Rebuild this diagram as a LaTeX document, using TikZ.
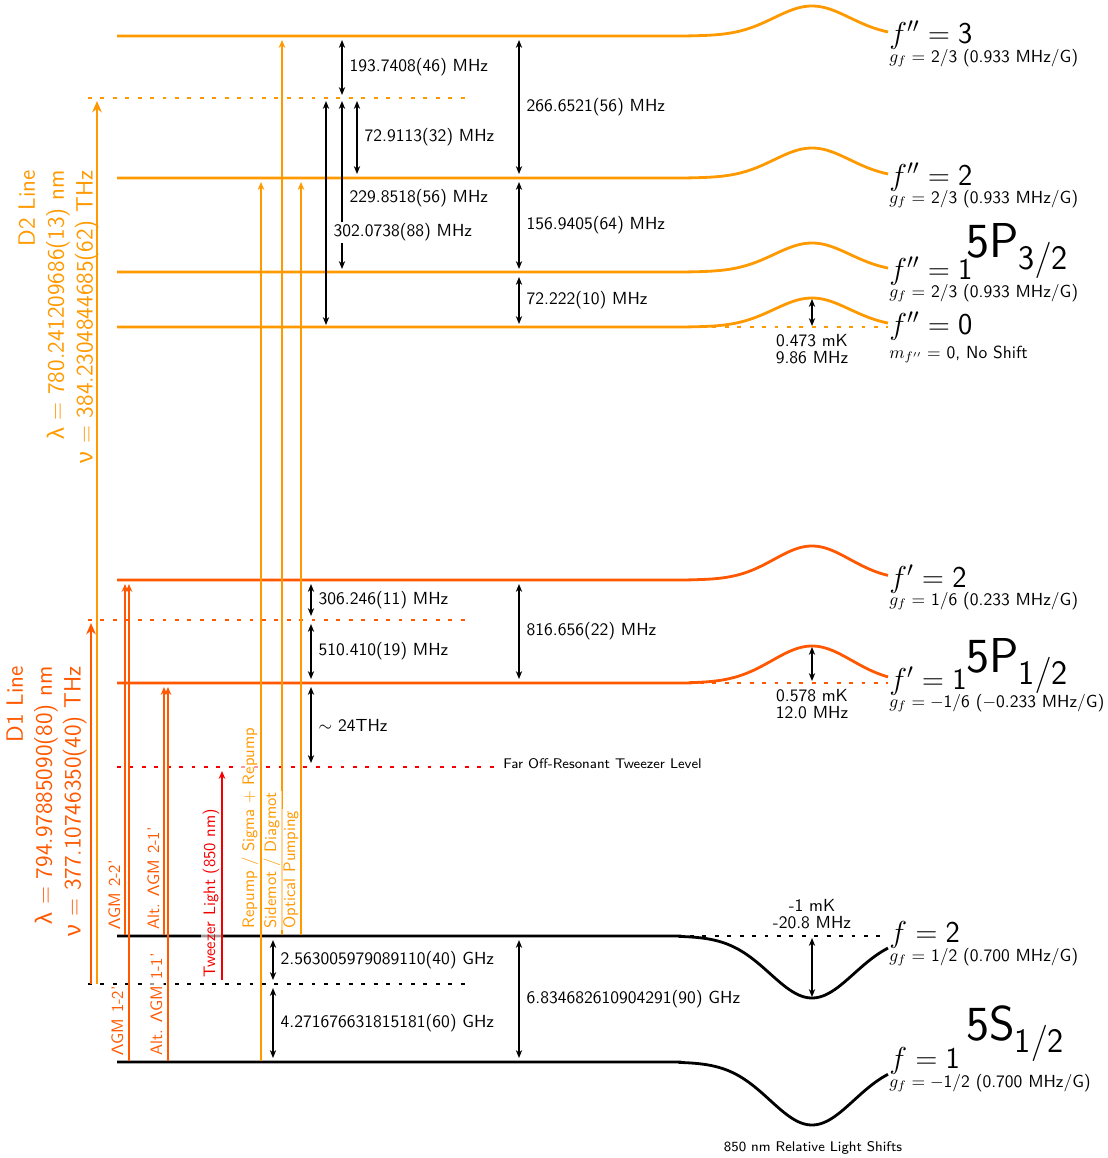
\documentclass[tikz,border=0pt]{standalone}
\usepackage{fontspec}
\newfontfamily\grk{Liberation Sans}
\usetikzlibrary{arrows.meta}
\definecolor{dtwo}{RGB}{255,153,0}
\definecolor{done}{RGB}{255,88,0}
\definecolor{twz}{RGB}{245,0,0}
\pgfmathdeclarefunction{gb}{2}{\pgfmathparse{exp(-0.5*((#1-812)/#2)*((#1-812)/#2))}}
\tikzset{
 lvl/.style={line width=1.6pt},
 vdot/.style={line width=1.6pt, dash pattern=on 2.2pt off 4.9pt},
 sep/.style={{Stealth[length=4.5pt,width=3.6pt]}-{Stealth[length=4.5pt,width=3.6pt]}, line width=0.75pt, black},
 beam/.style={-{Stealth[length=4.5pt,width=3.8pt]}, line width=0.8pt},
 dline/.style={-{Stealth[length=6.5pt,width=5.5pt]}, line width=1.7pt},
 seplab/.style={anchor=west, inner sep=0pt, font=\sffamily\fontsize{10}{12}\selectfont, xshift=4pt},
 beamlab/.style={rotate=90, anchor=base west, inner sep=0.8pt, font=\sffamily\fontsize{9.5}{11}\selectfont, fill=white, fill opacity=0.6, text opacity=1},
 biglab/.style={anchor=base west, inner sep=0pt, font=\fontsize{17.3}{20}\selectfont},
 gflab/.style={anchor=base west, inner sep=0pt, font=\sffamily\fontsize{10}{12}\selectfont},
 termlab/.style={anchor=base west, inner sep=0pt, font=\fontsize{28}{30}\selectfont},
 shiftlab/.style={align=center, inner sep=0pt, font=\sffamily\fontsize{10}{9.7}\selectfont},
 dlab/.style={rotate=90, anchor=south east, align=right, inner sep=0pt, font=\sffamily\fontsize{13.5}{16.5}\selectfont},
 smalllab/.style={inner sep=0pt, font=\sffamily\fontsize{8}{10}\selectfont},
}
\begin{document}
\begin{tikzpicture}[x=0.5715pt,y=-0.5715pt]
\useasboundingbox (0,0) rectangle (1108,1158);

% ---------- dotted virtual levels ----------
\draw[vdot,dtwo] (88,98) -- (466,98);
\draw[vdot,done] (88,620) -- (466,620);
\draw[vdot,black] (88,984) -- (466,984);
\draw[vdot,twz] (117,767) -- (500,767);
\node[smalllab, anchor=base west] (farlab) at (503,768) {Far Off-Resonant Tweezer Level};

% dotted continuations under shifted levels
\draw[vdot,dtwo] (700,327) -- (888,327);
\draw[vdot,done] (700,683) -- (888,683);
\draw[vdot,black] (690,936) -- (888,936);

% ---------- hyperfine levels with light shifts ----------
\draw[lvl,dtwo] (117,36) -- (690,36) -- plot[smooth,domain=690:888,samples=40] (\x,{36-30*gb(\x,38)});
\draw[lvl,dtwo] (117,178) -- (690,178) -- plot[smooth,domain=690:888,samples=40] (\x,{178-30*gb(\x,38)});
\draw[lvl,dtwo] (117,272) -- (690,272) -- plot[smooth,domain=690:888,samples=40] (\x,{272-29*gb(\x,38)});
\draw[lvl,dtwo] (117,327) -- (690,327) -- plot[smooth,domain=690:888,samples=40] (\x,{327-29*gb(\x,38)});
\draw[lvl,done] (117,580) -- (690,580) -- plot[smooth,domain=690:888,samples=40] (\x,{580-34*gb(\x,38)});
\draw[lvl,done] (117,683) -- (690,683) -- plot[smooth,domain=690:888,samples=40] (\x,{683-37*gb(\x,40)});
\draw[lvl,black] (117,936) -- (680,936) -- plot[smooth,domain=680:888,samples=40] (\x,{936+62*gb(\x,42)});
\draw[lvl,black] (117,1062) -- (680,1062) -- plot[smooth,domain=680:888,samples=40] (\x,{1062+63*gb(\x,42)});

% ---------- right labels ----------
\node[biglab] (l3) at (889,43) {$f''=\mathsf{3}$};
\node[gflab] (g3) at (889,62) {$g_f =$ 2/3 (0.933 MHz/G)};
\node[biglab] (l2) at (889,185) {$f''=\mathsf{2}$};
\node[gflab] (g2) at (889,203) {$g_f =$ 2/3 (0.933 MHz/G)};
\node[biglab] (l1) at (889,279) {$f''=\mathsf{1}$};
\node[gflab] (g1) at (889,297) {$g_f =$ 2/3 (0.933 MHz/G)};
\node[biglab] (l0) at (889,334) {$f''=\mathsf{0}$};
\node[gflab] (g0) at (889,358) {$m_{f''} =$ 0, No Shift};
\node[termlab] (t32) at (966,257) {$\mathsf{5P}_{\mathsf{3/2}}$};

\node[biglab] (k2) at (889,587) {$f'=\mathsf{2}$};
\node[gflab] (h2) at (889,605) {$g_f =$ 1/6 (0.233 MHz/G)};
\node[biglab] (k1) at (889,689) {$f'=\mathsf{1}$};
\node[gflab] (h1) at (889,707) {$g_f = -$1/6 ($-$0.233 MHz/G)};
\node[termlab] (t12) at (966,672) {$\mathsf{5P}_{\mathsf{1/2}}$};

\node[biglab] (j2) at (889,942) {$f=\mathsf{2}$};
\node[gflab] (i2) at (889,961) {$g_f =$ 1/2 (0.700 MHz/G)};
\node[biglab] (j1) at (889,1068) {$f=\mathsf{1}$};
\node[gflab] (i1) at (889,1087) {$g_f = -$1/2 (0.700 MHz/G)};
\node[termlab] (s12) at (966,1040) {$\mathsf{5S}_{\mathsf{1/2}}$};

% ---------- light shift arrows ----------
\coordinate (ls0a) at (812,299); \coordinate (ls0b) at (812,326);
\draw[sep] (ls0a) -- (ls0b);
\node[shiftlab, anchor=north] (ls0t) at (812,334) {0.473 mK\\9.86 MHz};
\coordinate (ls1a) at (812,647); \coordinate (ls1b) at (812,681);
\draw[sep] (ls1a) -- (ls1b);
\node[shiftlab, anchor=north] (ls1t) at (812,689) {0.578 mK\\12.0 MHz};
\coordinate (ls2a) at (812,938); \coordinate (ls2b) at (812,997);
\draw[sep] (ls2a) -- (ls2b);
\node[shiftlab, anchor=south] (ls2t) at (812,929) {-1 mK\\-20.8 MHz};
\node[smalllab, anchor=base] (lsb) at (813,1151) {850 nm Relative Light Shifts};

% ---------- splitting arrows ----------
\coordinate (s1t) at (342,40); \coordinate (s1b) at (342,95);
\draw[sep] (s1t) -- (s1b) node[seplab, midway] {193.7408(46) MHz};
\coordinate (s2t) at (357,101); \coordinate (s2b) at (357,174);
\draw[sep] (s2t) -- (s2b) node[seplab, midway] {72.9113(32) MHz};
\coordinate (s3t) at (342,101); \coordinate (s3b) at (342,269);
\draw[sep] (s3t) -- (s3b) node[seplab, pos=0.577] {229.8518(56) MHz};
\coordinate (s4t) at (326,101); \coordinate (s4b) at (326,325);
\draw[sep] (s4t) -- (s4b) node[seplab, pos=0.585, fill=white, inner sep=1pt, xshift=-1pt] {302.0738(88) MHz};
\coordinate (s5t) at (519,40); \coordinate (s5b) at (519,174);
\draw[sep] (s5t) -- (s5b) node[seplab, midway] {266.6521(56) MHz};
\coordinate (s6t) at (519,182); \coordinate (s6b) at (519,269);
\draw[sep] (s6t) -- (s6b) node[seplab, midway] {156.9405(64) MHz};
\coordinate (s7t) at (519,277); \coordinate (s7b) at (519,324);
\draw[sep] (s7t) -- (s7b) node[seplab, midway] {72.222(10) MHz};

\coordinate (p1t) at (311,584); \coordinate (p1b) at (311,616);
\draw[sep] (p1t) -- (p1b) node[seplab, midway] {306.246(11) MHz};
\coordinate (p2t) at (311,624); \coordinate (p2b) at (311,679);
\draw[sep] (p2t) -- (p2b) node[seplab, midway] {510.410(19) MHz};
\coordinate (p3t) at (519,584); \coordinate (p3b) at (519,679);
\draw[sep] (p3t) -- (p3b) node[seplab, midway] {816.656(22) MHz};
\coordinate (p4t) at (311,687); \coordinate (p4b) at (311,763);
\draw[sep] (p4t) -- (p4b) node[seplab, midway] {$\sim$ 24THz};

\coordinate (q1t) at (273,940); \coordinate (q1b) at (273,980);
\draw[sep] (q1t) -- (q1b) node[seplab, midway] {2.563005979089110(40) GHz};
\coordinate (q2t) at (273,988); \coordinate (q2b) at (273,1058);
\draw[sep] (q2t) -- (q2b) node[seplab, midway] {4.271676631815181(60) GHz};
\coordinate (q3t) at (519,940); \coordinate (q3b) at (519,1058);
\draw[sep] (q3t) -- (q3b) node[seplab, midway] {6.834682610904291(90) GHz};

% ---------- D lines ----------
\coordinate (d2s) at (97,984); \coordinate (d2e) at (97,101);
\draw[dline,dtwo] (d2s) -- (d2e);
\coordinate (d1s) at (91,984); \coordinate (d1e) at (91,623);
\draw[dline,done] (d1s) -- (d1e);
\node[dlab, text=dtwo] (d2lab) at (99,170) {D2 Line\\{\grk λ} = 780.241209686(13) nm\\{\grk ν} = 384.2304844685(62) THz};
\node[dlab, text=done] (d1lab) at (87,666) {D1 Line\\{\grk λ} = 794.97885090(80) nm\\{\grk ν} = 377.10746350(40) THz};

% ---------- laser beams ----------
\coordinate (b1s) at (125,935); \coordinate (b1e) at (125,584);
\draw[beam,done] (b1s) -- (b1e);
\coordinate (b2s) at (129,1061); \coordinate (b2e) at (129,584);
\draw[beam,done] (b2s) -- (b2e);
\coordinate (b3s) at (164,935); \coordinate (b3e) at (164,687);
\draw[beam,done] (b3s) -- (b3e);
\coordinate (b4s) at (168,1061); \coordinate (b4e) at (168,687);
\draw[beam,done] (b4s) -- (b4e);
\coordinate (b5s) at (222,980); \coordinate (b5e) at (222,771);
\draw[beam,twz] (b5s) -- (b5e);
\coordinate (b6s) at (261,1061); \coordinate (b6e) at (261,182);
\draw[beam,dtwo] (b6s) -- (b6e);
\coordinate (b7s) at (282,935); \coordinate (b7e) at (282,40);
\draw[beam,dtwo] (b7s) -- (b7e);
\coordinate (b8s) at (301,935); \coordinate (b8e) at (301,182);
\draw[beam,dtwo] (b8s) -- (b8e);

\node[beamlab, text=done] (bl1) at (120,931) {{\grk Λ}GM 2-2'};
\node[beamlab, text=done] (bl2) at (123,1057) {{\grk Λ}GM 1-2'};
\node[beamlab, text=done] (bl3) at (159,931) {Alt. {\grk Λ}GM 2-1'};
\node[beamlab, text=done] (bl4) at (162,1057) {Alt. {\grk Λ}GM 1-1'};
\node[beamlab, text=twz] (bl5) at (215,979) {Tweezer Light (850 nm)};
\node[beamlab, text=dtwo] (bl6) at (254,930) {Repump / Sigma + Repump};
\node[beamlab, text=dtwo] (bl7) at (276,930) {Sidemot / Diagmot};
\node[beamlab, text=dtwo] (bl8) at (295,930) {Optical Pumping};
\end{tikzpicture}
\end{document}
